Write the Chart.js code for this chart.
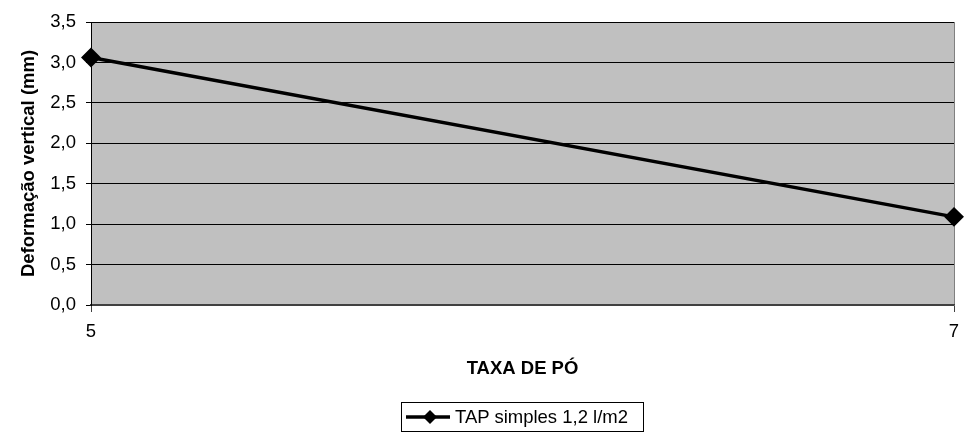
<!DOCTYPE html>
<html>
<head>
<meta charset="utf-8">
<script src="https://cdn.jsdelivr.net/npm/chart.js@4.4.1/dist/chart.umd.min.js"></script>
<style>
  body { margin: 0; background: #fff; font-family: "Liberation Sans", Arial, sans-serif; }
  #wrap { position: relative; width: 966px; height: 435px; }
  #legend {
    position: absolute; left: 401px; top: 402px; width: 241px; height: 28px;
    border: 1px solid #000; box-sizing: content-box;
    display: flex; align-items: center; font-size: 18.5px; color: #000; white-space: nowrap;
  }
  #legend svg { margin-left: 4px; margin-right: 5px; }
</style>
</head>
<body>
<div id="wrap">
  <canvas id="chart" width="966" height="435"></canvas>
  <div id="legend"></div>
</div>
<script>
// values
const taxaPo = [5, 7];
const deformacao = [3.06, 1.09];
const seriesName = 'TAP simples 1,2 l/m2';
const yTitle = 'Deformação vertical (mm)';
const xTitle = 'TAXA DE PÓ';

const fontFamily = '"Liberation Sans", Arial, sans-serif';
const fontSize = 18.5;

// gray plot background like the spreadsheet chart
const plotBackground = {
  id: 'plotBackground',
  beforeDraw(chart) {
    const { ctx, chartArea } = chart;
    ctx.save();
    ctx.fillStyle = '#c0c0c0';
    ctx.fillRect(chartArea.left, chartArea.top, chartArea.right - chartArea.left, chartArea.bottom - chartArea.top);
    ctx.restore();
  }
};

new Chart(document.getElementById('chart'), {
  type: 'line',
  data: {
    datasets: [{
      label: seriesName,
      data: taxaPo.map((x, i) => ({ x: x, y: deformacao[i] })),
      borderColor: '#000',
      backgroundColor: '#000',
      borderWidth: 3.5,
      pointStyle: 'rectRot',
      pointRadius: 7.5,
      pointHoverRadius: 7.5,
      tension: 0,
      clip: false
    }]
  },
  options: {
    responsive: false,
    animation: false,
    layout: { padding: { top: 22, right: 12, bottom: 50, left: 0 } },
    plugins: {
      legend: { display: false },
      tooltip: { enabled: false }
    },
    scales: {
      x: {
        type: 'linear',
        min: taxaPo[0],
        max: taxaPo[taxaPo.length - 1],
        afterFit: scale => {
          scale.height = 80;
          scale.paddingLeft = 0;
          scale.paddingRight = 0;
        },
        ticks: {
          count: 2,
          color: '#000',
          padding: 9,
          maxRotation: 0,
          font: { family: fontFamily, size: fontSize },
          callback: v => String(v)
        },
        grid: {
          drawOnChartArea: true,
          color: ctx => ctx.index === 0 ? '#000' : '#808080',
          tickColor: '#404040',
          tickLength: 7,
          lineWidth: 1
        },
        border: { color: '#404040', width: 1.5 },
        title: {
          display: true,
          text: xTitle,
          color: '#000',
          padding: { top: 0, bottom: 5 },
          font: { family: fontFamily, size: fontSize, weight: 'bold' }
        }
      },
      y: {
        min: 0,
        max: 3.5,
        afterFit: scale => { scale.width = 91; },
        ticks: {
          stepSize: 0.5,
          color: '#000',
          padding: 10,
          font: { family: fontFamily, size: fontSize },
          callback: v => v.toFixed(1).replace('.', ',')
        },
        grid: {
          color: ctx => ctx.tick && ctx.tick.value === 0 ? '#404040' : '#000',
          tickColor: '#000',
          tickLength: 5,
          lineWidth: 1
        },
        border: { color: '#000', width: 1 },
        title: {
          display: true,
          text: yTitle,
          color: '#000',
          padding: { top: 18, bottom: 0 },
          font: { family: fontFamily, size: fontSize, weight: 'bold' }
        }
      }
    }
  },
  plugins: [plotBackground]
});

// legend box: line with diamond marker, then the series name
document.getElementById('legend').innerHTML =
  '<svg width="44" height="16" viewBox="0 0 44 16">' +
  '<line x1="0" y1="8" x2="44" y2="8" stroke="#000" stroke-width="3.5"/>' +
  '<polygon points="24,1 31,8 24,15 17,8" fill="#000"/></svg>' +
  '<span>' + seriesName + '</span>';
</script>
</body>
</html>
